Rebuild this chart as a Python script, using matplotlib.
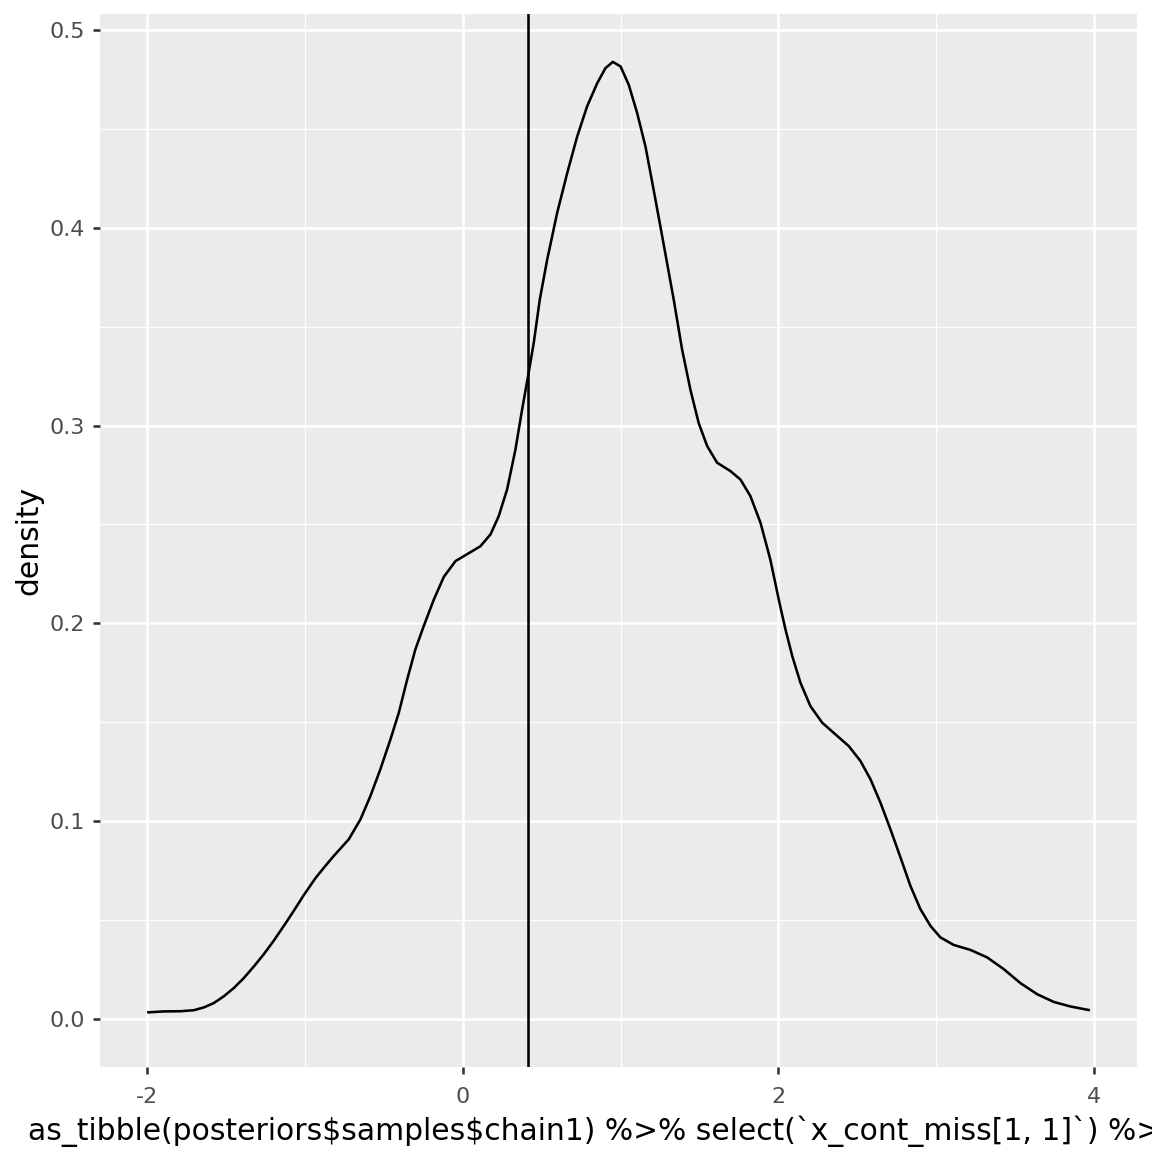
import matplotlib
matplotlib.use("Agg")
import matplotlib.pyplot as plt

# ---- data ----
x_vals = [-2.000, -1.895, -1.789, -1.705, -1.641, -1.578, -1.515, -1.451, -1.388, -1.324,
          -1.261, -1.198, -1.134, -1.071, -1.008, -0.934, -0.870, -0.817, -0.722, -0.648,
          -0.585, -0.522, -0.458, -0.405, -0.352, -0.300, -0.247, -0.183, -0.120, -0.046,
          0.028, 0.112, 0.176, 0.228, 0.281, 0.334, 0.376, 0.414, 0.450, 0.488,
          0.535, 0.598, 0.662, 0.725, 0.788, 0.852, 0.904, 0.951, 1.000, 1.052,
          1.105, 1.158, 1.210, 1.264, 1.337, 1.390, 1.443, 1.495, 1.549, 1.612,
          1.696, 1.760, 1.823, 1.887, 1.949, 2.007, 2.045, 2.088, 2.140, 2.203,
          2.278, 2.362, 2.446, 2.520, 2.584, 2.647, 2.710, 2.774, 2.837, 2.900,
          2.964, 3.027, 3.111, 3.217, 3.323, 3.428, 3.534, 3.640, 3.745, 3.851,
          3.974]
density = [0.0034, 0.0039, 0.0040, 0.0045, 0.0059, 0.0081, 0.0115, 0.0157, 0.0207, 0.0266,
           0.0328, 0.0396, 0.0471, 0.0547, 0.0626, 0.0712, 0.0775, 0.0825, 0.0909, 0.1010,
           0.1128, 0.1263, 0.1414, 0.1549, 0.1717, 0.1869, 0.1987, 0.2121, 0.2235, 0.2315,
           0.2350, 0.2390, 0.2450, 0.2542, 0.2677, 0.2879, 0.3080, 0.3250, 0.3418, 0.3636,
           0.3838, 0.4074, 0.4276, 0.4460, 0.4613, 0.4730, 0.4806, 0.4838, 0.4815, 0.4722,
           0.4580, 0.4410, 0.4190, 0.3956, 0.3636, 0.3384, 0.3180, 0.3013, 0.2896, 0.2812,
           0.2770, 0.2727, 0.2643, 0.2508, 0.2323, 0.2104, 0.1970, 0.1835, 0.1700, 0.1582,
           0.1498, 0.1439, 0.1380, 0.1305, 0.1212, 0.1094, 0.0960, 0.0817, 0.0673, 0.0556,
           0.0471, 0.0413, 0.0375, 0.0350, 0.0312, 0.0253, 0.0182, 0.0126, 0.0087, 0.0064,
           0.0045]
vline_x = 0.414

x_ticks = [-2, 0, 2, 4]
x_tick_labels = ["-2", "0", "2", "4"]
x_minor = [-1, 1, 3]
y_ticks = [0.0, 0.1, 0.2, 0.3, 0.4, 0.5]
y_tick_labels = ["0.0", "0.1", "0.2", "0.3", "0.4", "0.5"]
y_minor = [0.05, 0.15, 0.25, 0.35, 0.45]

x_label = r"as_tibble(posteriors\$samples\$chain1) %>% select(`x_cont_miss[1, 1]`) %>% pull()"
y_label = "density"

# ---- figure ----
plt.rcParams['font.family'] = ['DejaVu Sans']
W = 1152
dpi = 172.8
fig = plt.figure(figsize=(W / dpi, W / dpi), dpi=dpi, facecolor='white')
ax = fig.add_axes([100 / W, 1 - 1067 / W, 1037 / W, 1053 / W])
ax.set_facecolor('#EBEBEB')
for s in ax.spines.values():
    s.set_visible(False)

lw = 1.07
ax.plot(x_vals, density, color='black', lw=lw, solid_joinstyle='round',
        solid_capstyle='butt', zorder=3)
ax.axvline(vline_x, color='black', lw=lw, zorder=3)

xmin, xmax = min(x_vals), max(x_vals)
xr = xmax - xmin
ymin, ymax = 0.0, max(density)
yr = ymax - ymin
ax.set_xlim(xmin - 0.05 * xr, xmax + 0.05 * xr)
ax.set_ylim(ymin - 0.05 * yr, ymax + 0.05 * yr)

ax.set_xticks(x_ticks)
ax.set_xticklabels(x_tick_labels)
ax.set_yticks(y_ticks)
ax.set_yticklabels(y_tick_labels)
ax.set_xticks(x_minor, minor=True)
ax.set_yticks(y_minor, minor=True)

ax.set_axisbelow(True)
ax.grid(which='major', color='white', lw=lw)
ax.grid(which='minor', color='white', lw=lw / 2)

ax.tick_params(which='major', length=2.9, width=lw, color='#333333',
               labelcolor='#4D4D4D', labelsize=9.3)
ax.tick_params(axis='x', which='major', pad=5.5)
ax.tick_params(axis='y', which='major', pad=3.5)
ax.tick_params(which='minor', length=0)

ax.set_xlabel(x_label, fontsize=12.4, color='black', ha='left', va='baseline')
ax.xaxis.set_label_coords((28 - 100) / 1037, (1067 - 1140) / 1053)
ax.set_ylabel(y_label, fontsize=12.4, color='black', va='center')
ax.yaxis.set_label_coords((28.5 - 100) / 1037, 0.5)

fig.savefig('out.png', dpi=dpi, facecolor='white')
